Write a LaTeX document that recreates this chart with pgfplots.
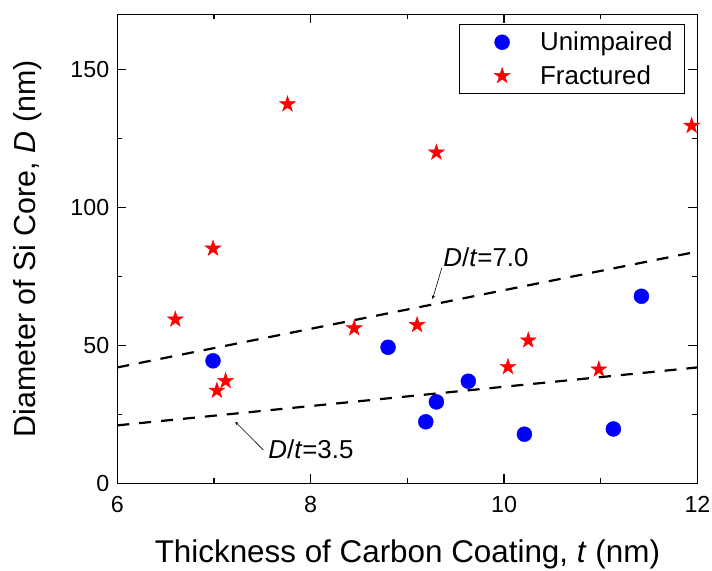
\documentclass[border=0pt]{standalone}
\usepackage{fontspec}
\setmainfont{Liberation Sans}
\usepackage{pgfplots}
\pgfplotsset{compat=1.18}
\pgfdeclareplotmark{fstar}{%
  \pgfpathmoveto{\pgfpointpolar{90}{\pgfplotmarksize}}%
  \pgfpathlineto{\pgfpointpolar{126}{0.382\pgfplotmarksize}}%
  \pgfpathlineto{\pgfpointpolar{162}{\pgfplotmarksize}}%
  \pgfpathlineto{\pgfpointpolar{198}{0.382\pgfplotmarksize}}%
  \pgfpathlineto{\pgfpointpolar{234}{\pgfplotmarksize}}%
  \pgfpathlineto{\pgfpointpolar{270}{0.382\pgfplotmarksize}}%
  \pgfpathlineto{\pgfpointpolar{306}{\pgfplotmarksize}}%
  \pgfpathlineto{\pgfpointpolar{342}{0.382\pgfplotmarksize}}%
  \pgfpathlineto{\pgfpointpolar{18}{\pgfplotmarksize}}%
  \pgfpathlineto{\pgfpointpolar{54}{0.382\pgfplotmarksize}}%
  \pgfpathclose
  \pgfusepathqfillstroke
}
\begin{document}
\begin{tikzpicture}
\begin{axis}[
  scale only axis,
  width=580.2bp, height=469bp,
  xmin=6, xmax=12, ymin=0, ymax=170,
  xtick={6,8,10,12}, ytick={0,50,100,150},
  minor xtick={7,9,11}, minor ytick={25,75,125},
  tick align=inside,
  major tick length=9bp, minor tick length=5bp,
  tick style={black, line width=1.2bp},
  axis line style={line width=1.3bp},
  /pgf/number format/assume math mode=true,
  ticklabel style={font=\fontsize{23.3}{27}\selectfont},
  xticklabel style={yshift=-9bp},
  yticklabel style={xshift=-4.6bp},
  xlabel={Thickness of Carbon Coating, \textit{t} (nm)},
  ylabel={Diameter of Si Core, \textit{D} (nm)},
  xlabel style={font=\fontsize{31.5}{36}\selectfont, at={([yshift=-79bp]axis description cs:0.5,0)}, anchor=base},
  ylabel style={font=\fontsize{30.5}{35}\selectfont, at={([xshift=-81.3bp]axis description cs:0,0.5)}, anchor=base},
  legend style={at={(1,1)}, anchor=north east, xshift=-12.5bp, yshift=-9.7bp,
    draw=black, line width=0.8bp, inner xsep=0pt, inner ysep=1bp,
    nodes={inner sep=0pt}, font=\fontsize{26}{30}\selectfont,
    column sep=0pt, row sep=0pt},
  legend image code/.code={\path[draw=none, fill=none] (-42.7bp,-16.85bp) rectangle (38bp,16.85bp); \draw[#1] plot coordinates {(0bp,0bp)};},
  legend cell align=left,
  clip=false,
]
\addplot[only marks, mark=*, mark size=7.5bp, blue, mark options={fill=blue, draw=blue, line width=0.4bp}] coordinates {
(6.99,44.4) (8.80,49.3) (9.30,29.5) (9.19,22.3) (9.63,37.0) (10.21,17.8) (11.13,19.7) (11.42,67.8)
};
\addlegendentry{Unimpaired\hspace*{12bp}}
\addplot[only marks, mark=fstar, mark size=8.4bp, red, mark options={fill=red, draw=red, line width=0.4bp}] coordinates {
(6.60,59.4) (6.99,85.1) (7.03,33.6) (7.12,37.1) (7.76,137.4) (8.45,56.2) (9.10,57.4) (9.30,119.9) (10.04,42.2) (10.25,51.8) (10.98,41.3) (11.94,129.6)
};
\addlegendentry{Fractured\hspace*{12bp}}
\addplot[black, line width=2.2bp, dash pattern=on 12bp off 10bp, forget plot] coordinates {(6,42) (12,84)};
\addplot[black, line width=2.2bp, dash pattern=on 12bp off 10bp, forget plot] coordinates {(6,21) (12,42)};
\draw[->, >=stealth, line width=0.6bp] (axis cs:9.355,78.0) -- (axis cs:9.26,66.8);
\node[anchor=west, font=\fontsize{26}{30}\selectfont, inner sep=0pt] at (axis cs:9.37,81.8) {\textit{D}/\textit{t}=7.0};
\draw[->, >=stealth, line width=0.6bp] (axis cs:7.51,12.1) -- (axis cs:7.22,22.3);
\node[anchor=west, font=\fontsize{26}{30}\selectfont, inner sep=0pt] at (axis cs:7.56,12.2) {\textit{D}/\textit{t}=3.5};
\end{axis}
\pgfresetboundingbox
\path (-117.3bp,-87.7bp) rectangle (594.7bp,483.3bp);
\end{tikzpicture}
\end{document}
